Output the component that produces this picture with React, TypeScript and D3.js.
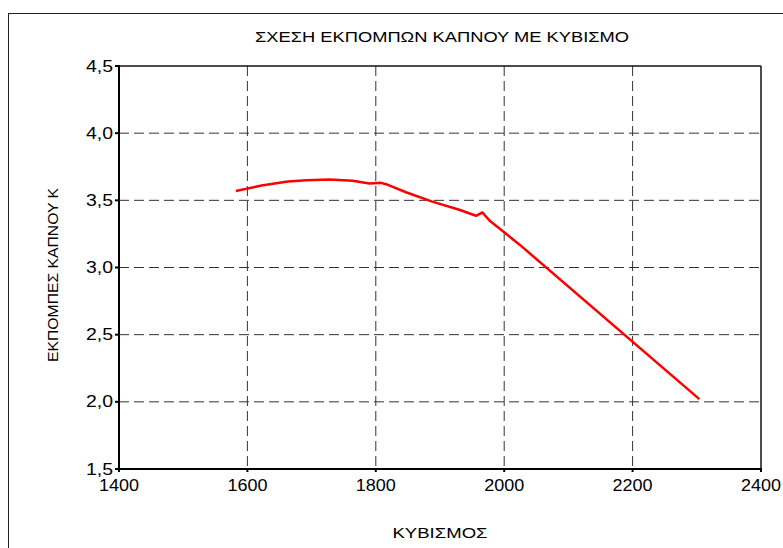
import React from "react";
import * as d3 from "d3";

const cc: number[] = [1582, 1622, 1663, 1692, 1728, 1764, 1790, 1808, 1816, 1847, 1888, 1930, 1956, 1966, 1977, 2024, 2304];
const smoke: number[] = [3.57, 3.61, 3.64, 3.65, 3.655, 3.645, 3.625, 3.63, 3.62, 3.56, 3.49, 3.43, 3.385, 3.41, 3.35, 3.17, 2.02];
const xTicks: number[] = [1400, 1600, 1800, 2000, 2200, 2400];
const yTicks: number[] = [1.5, 2.0, 2.5, 3.0, 3.5, 4.0, 4.5];
const title = "ΣΧΕΣΗ ΕΚΠΟΜΠΩΝ ΚΑΠΝΟΥ ΜΕ ΚΥΒΙΣΜΟ";
const xLabel = "ΚΥΒΙΣΜΟΣ";
const yLabel = "ΕΚΠΟΜΠΕΣ ΚΑΠΝΟΥ Κ";

const W = 783;
const H = 548;
const left = 119;
const right = 761;
const top = 66;
const bottom = 469;

export default function App() {
  const x = d3.scaleLinear().domain([1400, 2400]).range([left, right]);
  const y = d3.scaleLinear().domain([1.5, 4.5]).range([bottom, top]);
  const pts: [number, number][] = cc.map((c, i) => [c, smoke[i]]);
  const line = d3
    .line<[number, number]>()
    .x((d) => x(d[0]))
    .y((d) => y(d[1]));
  const font = "'Liberation Sans', Arial, sans-serif";
  const fmt = (v: number) => v.toFixed(1).replace(".", ",");

  return (
    <svg
      width={W}
      height={H}
      style={{ position: "absolute", left: 0, top: 0, background: "#fff" }}
      fontFamily={font}
    >
      <rect x={0} y={0} width={W} height={H} fill="#fff" />
      <rect x={8.5} y={13.5} width={900} height={700} fill="none" stroke="#222" strokeWidth={1} />
      <text x={442} y={42} fontSize={14.5} textAnchor="middle" fill="#000" textLength={374} lengthAdjust="spacingAndGlyphs">
        {title}
      </text>
      {/* grid */}
      {yTicks.slice(1, -1).map((t) => (
        <line key={"gy" + t} x1={left} x2={right} y1={y(t)} y2={y(t)} stroke="#333" strokeWidth={1} strokeDasharray="10,5" />
      ))}
      {xTicks.slice(1, -1).map((t) => (
        <line key={"gx" + t} x1={x(t)} x2={x(t)} y1={top} y2={bottom} stroke="#333" strokeWidth={1} strokeDasharray="10,5" />
      ))}
      {/* frame */}
      <line x1={left} x2={right} y1={top} y2={top} stroke="#111" strokeWidth={1.5} />
      <line x1={right} x2={right} y1={top} y2={bottom} stroke="#111" strokeWidth={1.5} />
      <line x1={left} x2={left} y1={top - 1} y2={bottom + 1} stroke="#000" strokeWidth={2} />
      <line x1={left - 1} x2={right + 1} y1={bottom} y2={bottom} stroke="#000" strokeWidth={2} />
      {/* y ticks */}
      {yTicks.map((t) => (
        <g key={"ty" + t}>
          <line x1={left - 4} x2={left} y1={y(t)} y2={y(t)} stroke="#000" strokeWidth={2} />
          <text x={113} y={y(t) + 5.5} fontSize={16} textAnchor="end" fill="#000" textLength={27} lengthAdjust="spacingAndGlyphs">
            {fmt(t)}
          </text>
        </g>
      ))}
      {/* x ticks */}
      {xTicks.map((t) => (
        <g key={"tx" + t}>
          <line x1={x(t)} x2={x(t)} y1={bottom} y2={bottom + 3} stroke="#000" strokeWidth={2} />
          <text x={x(t)} y={491} fontSize={16} textAnchor="middle" fill="#000" textLength={40} lengthAdjust="spacingAndGlyphs">
            {String(t)}
          </text>
        </g>
      ))}
      <text x={440} y={538} fontSize={15.5} textAnchor="middle" fill="#000" textLength={95} lengthAdjust="spacingAndGlyphs">
        {xLabel}
      </text>
      <text
        transform={`translate(58,275) rotate(-90)`}
        fontSize={14}
        textAnchor="middle"
        fill="#000"
        textLength={174}
        lengthAdjust="spacingAndGlyphs"
      >
        {yLabel}
      </text>
      <path d={line(pts) || ""} fill="none" stroke="#ff0000" strokeWidth={2.5} strokeLinejoin="round" />
    </svg>
  );
}
